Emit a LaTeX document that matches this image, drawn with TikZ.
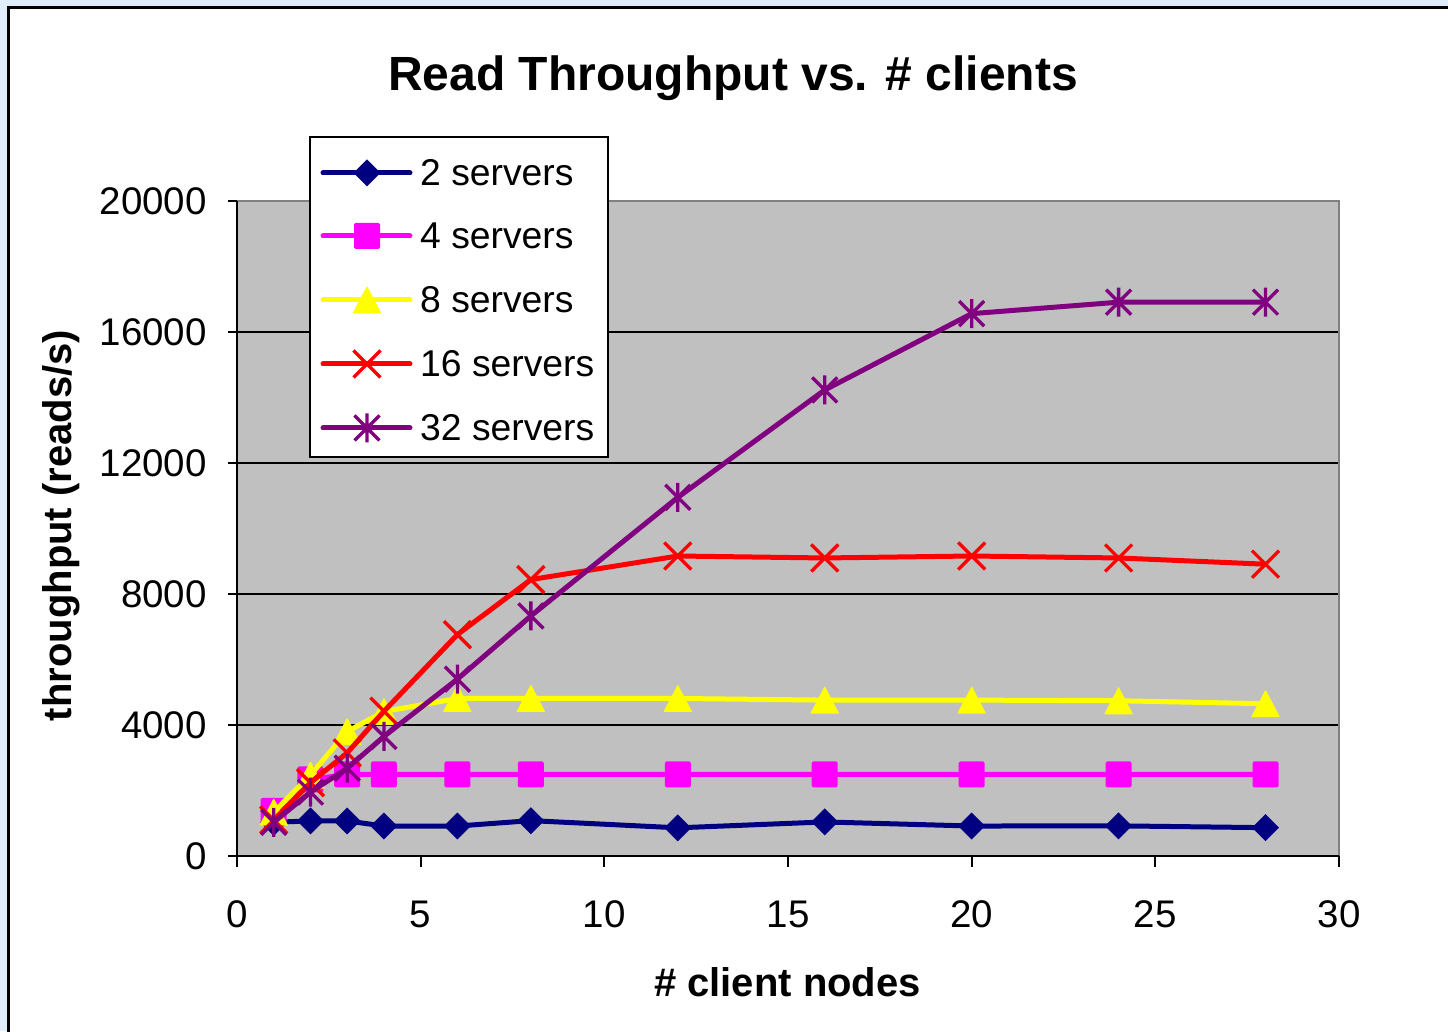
\documentclass[tikz,border=0pt]{standalone}
\usepackage{fontspec}
\setmainfont{Liberation Sans}
\definecolor{bgblue}{RGB}{224,238,252}
\definecolor{plotgray}{RGB}{192,192,192}
\definecolor{edgegray}{RGB}{128,128,128}
\definecolor{sNavy}{RGB}{0,0,128}
\definecolor{sMag}{RGB}{255,0,255}
\definecolor{sYel}{RGB}{255,255,0}
\definecolor{sRed}{RGB}{255,0,0}
\definecolor{sPur}{RGB}{128,0,128}
\tikzset{
  mdiam/.pic={\fill (0,13.5pt)--(13.5pt,0)--(0,-13.5pt)--(-13.5pt,0)--cycle;},
  msq/.pic={\fill[rounded corners=1.5pt] (-13pt,-13pt) rectangle (13pt,13pt);},
  mtri/.pic={\fill[rounded corners=0.8pt] (0,14pt)--(14.5pt,-13.5pt)--(-14.5pt,-13.5pt)--cycle;},
  mx/.pic={\draw[line width=3.3pt] (-13.5pt,-13.5pt)--(13.5pt,13.5pt) (-13.5pt,13.5pt)--(13.5pt,-13.5pt);},
  mstar/.pic={\draw[line width=3.3pt] (-12.5pt,-12.5pt)--(12.5pt,12.5pt) (-12.5pt,12.5pt)--(12.5pt,-12.5pt) (0,-14.5pt)--(0,14.5pt);},
  serline/.style={line width=5pt, line join=round},
  ticklab/.style={font=\fontsize{38.5}{42}\selectfont, inner sep=0pt},
  axtitle/.style={font=\fontsize{40}{44}\selectfont\bfseries, inner sep=0pt},
  legtext/.style={font=\fontsize{37.3}{40}\selectfont, inner sep=0pt, anchor=west},
}
\newcommand\plotseries[4]{%
  \foreach \xx/\yy [count=\i] in {#4} {\coordinate (#1-\i) at (\xx,\yy);}
  \draw[serline,#2] (#1-1) \foreach \i in {2,...,11}{ -- (#1-\i)};
  \foreach \i in {1,...,11} {\pic[#2] at (#1-\i) {#3};}
}
\begin{document}
\begin{tikzpicture}[x=1pt,y=1pt]
\useasboundingbox (0,0) rectangle (1448,1031);
% background and frame
\fill[bgblue] (0,0) rectangle (1448,1031);
\fill[white] (8.5,-5) rectangle (1460,1023.5);
\draw[black, line width=2.2pt] (8.5,-5) -- (8.5,1023.5) -- (1460,1023.5);
% title
\node[font=\fontsize{48}{52}\selectfont\bfseries, inner sep=0pt, anchor=base] (title) at (733,940) {Read Throughput vs. \# clients};
% plot area
\fill[plotgray] (237,175) rectangle (1339,830);
\foreach \k in {1,...,4} {\draw[black, line width=1.3pt] (237,175+131*\k) -- (1339,175+131*\k);}
\draw[edgegray, line width=2.5pt] (237,830) -- (1339,830) -- (1339,175);
\draw[black, line width=2.2pt] (237,830) -- (237,175) -- (1339,175);
% y ticks and labels
\foreach \k/\lab in {0/0,1/4000,2/8000,3/12000,4/16000,5/20000} {
  \draw[black, line width=2pt] (228,175+131*\k) -- (237,175+131*\k);
  \node[ticklab, anchor=east] (ylab\k) at (207,175+131*\k) {\lab};
}
% x ticks and labels
\foreach \k in {0,...,6} {
  \draw[black, line width=2pt] (237+183.667*\k,175) -- (237+183.667*\k,164);
  \pgfmathtruncatemacro{\lab}{5*\k}
  \node[ticklab, anchor=base] (xlab\k) at (237+183.667*\k,104) {\lab};
}
% axis titles
\node[axtitle, anchor=base] (xtitle) at (787.5,35) {\# client nodes};
\node[axtitle, anchor=base, rotate=90] (ytitle) at (71,505.5) {throughput (reads/s)};
% data
\begin{scope}[shift={(237pt,175pt)}, x=36.7333pt, y=32.75pt]
\plotseries{s2}{sNavy}{mdiam}{1/1.03, 2/1.07, 3/1.07, 4/0.915, 6/0.915, 8/1.08, 12/0.86, 16/1.04, 20/0.915, 24/0.92, 28/0.865}
\plotseries{s4}{sMag}{msq}{1/1.38, 2/2.34, 3/2.49, 4/2.49, 6/2.49, 8/2.49, 12/2.49, 16/2.49, 20/2.49, 24/2.49, 28/2.49}
\plotseries{s8}{sYel}{mtri}{1/1.34, 2/2.47, 3/3.8, 4/4.41, 6/4.81, 8/4.81, 12/4.81, 16/4.76, 20/4.76, 24/4.74, 28/4.65}
\plotseries{s16}{sRed}{mx}{1/1.1, 2/2.24, 3/3.15, 4/4.42, 6/6.76, 8/8.44, 12/9.16, 16/9.1, 20/9.16, 24/9.1, 28/8.91}
\plotseries{s32}{sPur}{mstar}{1/1.03, 2/1.95, 3/2.68, 4/3.65, 6/5.4, 8/7.33, 12/10.95, 16/14.23, 20/16.56, 24/16.91, 28/16.91}
\end{scope}
% legend
\node[draw=black, fill=white, line width=2pt, minimum width=298pt, minimum height=320pt, inner sep=0pt, anchor=south west] (legend) at (309,573) {};
\foreach \k/\col/\mk/\txt [count=\j] in {858/sNavy/mdiam/2 servers, 795/sMag/msq/4 servers, 731/sYel/mtri/8 servers, 667/sRed/mx/16 servers, 603/sPur/mstar/32 servers} {
  \coordinate (la\j) at (323,\k);
  \coordinate (lb\j) at (410,\k);
  \draw[\col, line width=5pt, line cap=round] (la\j) -- (lb\j);
  \pic[\col] at (367,\k) {\mk};
  \node[legtext] (lt\j) at (420,\k) {\txt};
}
\end{tikzpicture}
\end{document}
